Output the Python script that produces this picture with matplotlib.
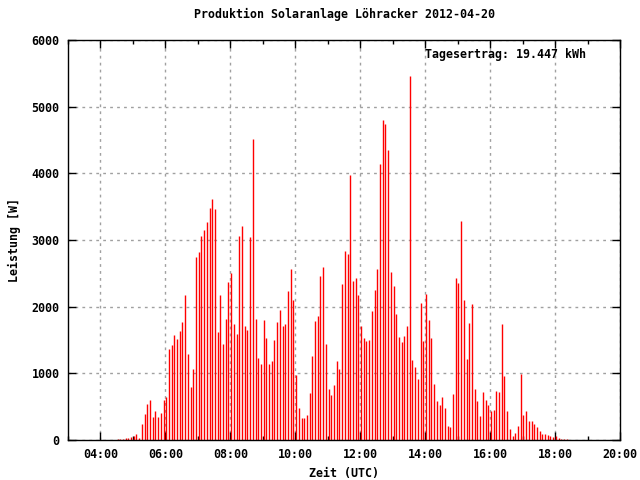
import numpy as np
import matplotlib
matplotlib.use("Agg")
import matplotlib.pyplot as plt
from matplotlib.ticker import MultipleLocator, FuncFormatter

# 5-minute samples, first one at about 04:31 UTC
start_hour = 4 + 31.5 / 60
step_hours = 5 / 60

# power readings [W]
morning = [15, 15, 15, 30, 30, 45, 60, 90, 30, 240, 390, 540, 600, 345, 435, 345,
           405, 600, 645, 1365, 1425, 1575, 1515, 1635, 1770, 2175, 1290, 795, 1065,
           2745, 2820, 3060, 3150, 3270, 3480, 3615, 3465, 1620, 2175, 1440, 1815, 2370]
late_morning = [2505, 1740, 1590, 3060, 3210, 1710, 1650, 3045, 4515, 1815, 1230, 1140,
                1800, 1530, 1140, 1185, 1500, 1770, 1950, 1710, 1740, 2235, 2565, 2100,
                975, 480, 330, 330, 375, 705, 1260, 1785, 1860, 2460, 2595, 1440, 765,
                675, 825, 1185, 1065, 2340, 2835, 2790]
midday = [3975, 2385, 2430, 2175, 1710, 1530, 1485, 1500, 1935, 2250, 2565, 4140, 4800,
          4740, 4350, 2520, 2310, 1890, 1545, 1470, 1560, 1710, 5460, 1200, 1095, 915,
          2055, 1485, 2190, 1800, 1530, 840, 585, 525, 645, 480, 210, 195, 690, 2430,
          2355, 3285, 2100, 1215]
afternoon = [1755, 2040, 765, 585, 360, 720, 600, 525, 435, 450, 735, 720, 1740, 960,
             435, 165, 60, 105, 210, 990, 375, 435, 285, 285, 240, 195, 135, 90, 90, 75,
             60, 45, 60, 30, 15, 15, 15]

title = "Produktion Solaranlage Löhracker 2012-04-20"
total_text = "Tagesertrag: 19.447 kWh"

power = np.array(morning + late_morning + midday + afternoon)
hours = start_hour + step_hours * np.arange(len(power))

font = {"family": "DejaVu Sans Mono", "weight": "bold", "size": 8.4}

fig = plt.figure(figsize=(6.4, 4.8), dpi=100)
ax = fig.add_axes([68 / 640, 40 / 480, 552 / 640, 400 / 480])

ax.vlines(hours, 0, power, colors="#ff0000", linewidth=1.0)

ax.set_xlim(3, 20)
ax.set_ylim(0, 6000)
ax.xaxis.set_major_locator(MultipleLocator(2))
ax.xaxis.set_minor_locator(MultipleLocator(1))
ax.yaxis.set_major_locator(MultipleLocator(1000))
ax.xaxis.set_major_formatter(FuncFormatter(lambda v, p: "%02d:00" % int(round(v))))
ax.grid(True, which="major", color="#a0a0a0", linestyle=(0, (2, 3)), linewidth=1.0)
ax.set_axisbelow(True)

ax.tick_params(which="both", direction="in", top=True, right=True, width=1, color="black")
ax.tick_params(which="major", length=6, pad=6)
ax.tick_params(which="minor", length=3)
for sp in ax.spines.values():
    sp.set_linewidth(1.0)

for lab in ax.get_xticklabels() + ax.get_yticklabels():
    lab.set_fontproperties(matplotlib.font_manager.FontProperties(**font))

ax.set_xlabel("Zeit (UTC)", fontdict=font, labelpad=4)
ax.set_ylabel("Leistung [W]", fontdict=font, labelpad=8)
ax.set_title(title, fontdict=font, pad=16)
ax.text(0.938, 0.9625, total_text, transform=ax.transAxes, ha="right", va="center",
        fontdict=font)

fig.savefig("out.png", dpi=100)
